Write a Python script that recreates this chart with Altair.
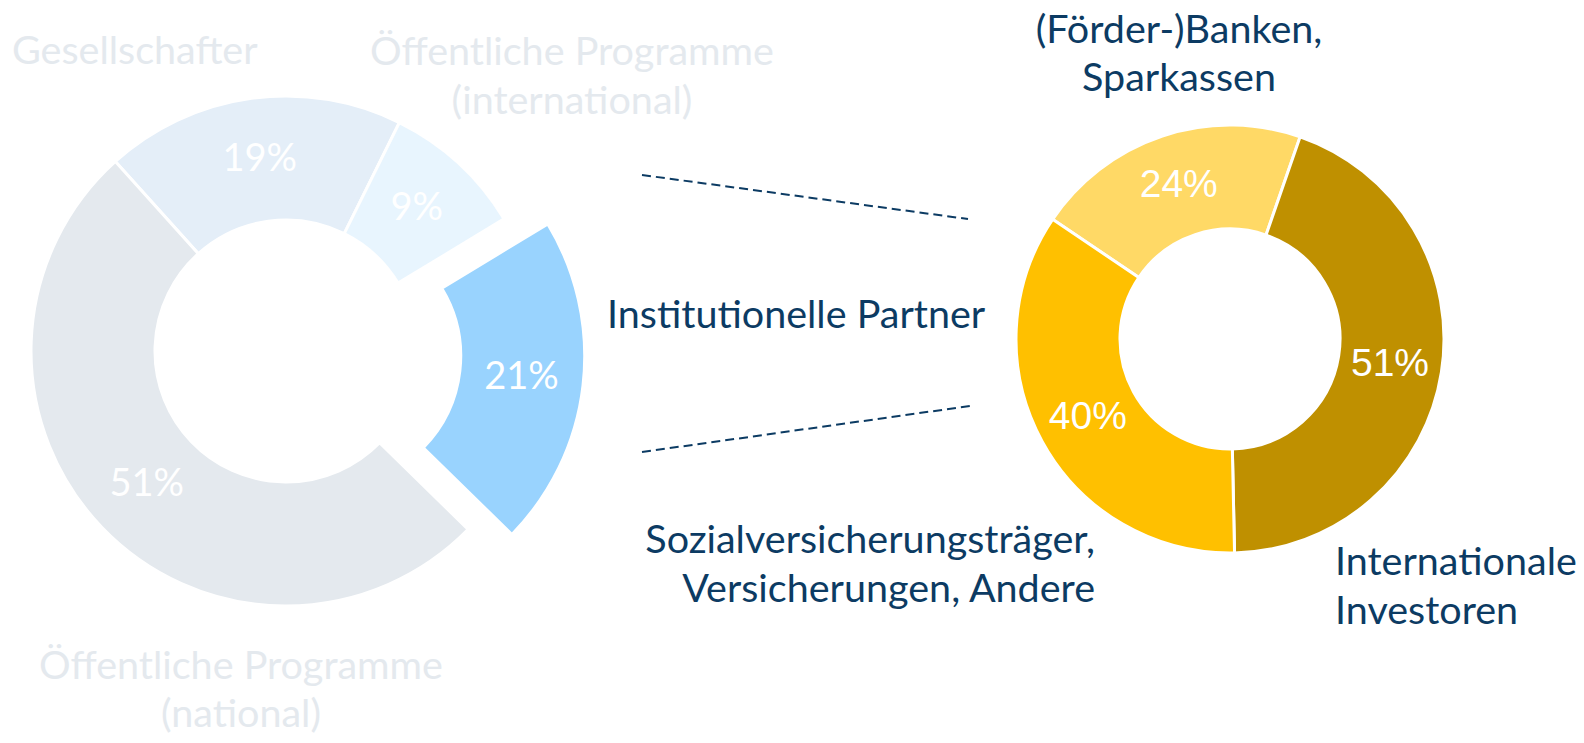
import math
import altair as alt
import pandas as pd

# ---------------- data ----------------
left_categories = ["Gesellschafter", "Öffentliche Programme (international)",
                   "Institutionelle Partner", "Öffentliche Programme (national)"]
left_values = [19, 9, 21, 51]
left_pct = ["19%", "9%", "21%", "51%"]
left_colors = ["#E4EEF8", "#E8F5FE", "#99D3FE", "#E4E9EE"]
left_explode = [0, 0, 1, 0]

right_categories = ["(Förder-)Banken, Sparkassen", "Internationale Investoren",
                    "Sozialversicherungsträger, Versicherungen, Andere"]
right_values = [24, 51, 40]
right_pct = ["24%", "51%", "40%"]
right_colors = ["#FFD966", "#BF9000", "#FFC000"]

# text labels (lines)
lbl_gesell = ["Gesellschafter"]
lbl_oeff_int = ["Öffentliche Programme", "(international)"]
lbl_oeff_nat = ["Öffentliche Programme", "(national)"]
lbl_inst = ["Institutionelle Partner"]
lbl_banken = ["(Förder-)Banken,", "Sparkassen"]
lbl_sozial = ["Sozialversicherungsträger,", "Versicherungen, Andere"]
lbl_internat = ["Internationale", "Investoren"]

# ---------------- layout ----------------
W, H = 1568, 727
NAVY = "#0C3B63"
FADED = "#E4E9EE"
FONT = "Lato"
FS = 39.5

LCX, LCY, LR, Lr = 278, 343, 255, 131
RCX, RCY, RR, Rr = 1222, 331, 214, 110
L_START = math.radians(-42)
R_START = math.radians(-56)
EXPLODE = 44

left_df = pd.DataFrame({
    "cat": left_categories, "value": left_values, "pct": left_pct,
    "color": left_colors, "explode": left_explode,
    "idx": list(range(len(left_values))),
})
right_df = pd.DataFrame({
    "cat": right_categories, "value": right_values, "pct": right_pct,
    "color": right_colors, "idx": list(range(len(right_values))),
})

# exploded slice offset along its mid angle
tot = sum(left_values)
k = left_explode.index(1)
mid_frac = (sum(left_values[:k]) + left_values[k] / 2) / tot
mid_ang = L_START + mid_frac * 2 * math.pi
EX_DX = EXPLODE * math.sin(mid_ang)
EX_DY = -EXPLODE * math.cos(mid_ang)


def theta(start):
    return alt.Theta("value:Q", stack=True,
                     scale=alt.Scale(range=[start, start + 2 * math.pi]))


left_base = alt.Chart(left_df).encode(
    theta=theta(L_START),
    order=alt.Order("idx:Q"),
)

left_arcs = left_base.mark_arc(
    x=LCX, y=LCY, outerRadius=LR, innerRadius=Lr,
    stroke="white", strokeWidth=3,
).encode(
    color=alt.Color("color:N", scale=None),
    opacity=alt.condition(alt.datum.explode == 1, alt.value(0), alt.value(1)),
)
left_arcs_ex = left_base.mark_arc(
    x=LCX + EX_DX, y=LCY + EX_DY, outerRadius=LR, innerRadius=Lr,
    stroke="white", strokeWidth=3,
).encode(
    color=alt.Color("color:N", scale=None),
    opacity=alt.condition(alt.datum.explode == 1, alt.value(1), alt.value(0)),
)
left_text = left_base.mark_text(
    x=LCX, y=LCY, radius=(LR + Lr) / 2, font=FONT, fontSize=38,
    color="white", align="center", baseline="middle",
).encode(
    text="pct:N",
    opacity=alt.condition(alt.datum.explode == 1, alt.value(0), alt.value(1)),
)
left_text_ex = left_base.mark_text(
    x=LCX + EX_DX, y=LCY + EX_DY, radius=(LR + Lr) / 2, font=FONT, fontSize=38,
    color="white", align="center", baseline="middle",
).encode(
    text="pct:N",
    opacity=alt.condition(alt.datum.explode == 1, alt.value(1), alt.value(0)),
)

right_base = alt.Chart(right_df).encode(
    theta=theta(R_START),
    order=alt.Order("idx:Q"),
)
right_arcs = right_base.mark_arc(
    x=RCX, y=RCY, outerRadius=RR, innerRadius=Rr,
    stroke="white", strokeWidth=3,
).encode(color=alt.Color("color:N", scale=None))
right_text = right_base.mark_text(
    x=RCX, y=RCY, radius=(RR + Rr) / 2, font="Liberation Sans", fontSize=39,
    color="white", align="center", baseline="middle",
).encode(text="pct:N")

dummy = pd.DataFrame({"d": [0]})


def label(lines, x, y, align, color, lh=49):
    return alt.Chart(dummy).mark_text(
        text=lines, font=FONT, fontSize=FS, color=color, align=align,
        baseline="alphabetic", lineHeight=lh,
    ).encode(x=alt.value(x), y=alt.value(y))


def dashed(x1, y1, x2, y2):
    return alt.Chart(dummy).mark_rule(
        color=NAVY, strokeWidth=2, strokeDash=[9, 5],
    ).encode(x=alt.value(x1), y=alt.value(y1), x2=alt.value(x2), y2=alt.value(y2))


chart = alt.layer(
    left_arcs, left_arcs_ex, left_text, left_text_ex,
    right_arcs, right_text,
    dashed(634, 167, 960, 211),
    dashed(634, 444, 962, 398),
    label(lbl_gesell, 4, 56, "left", FADED),
    label(lbl_oeff_int, 564, 57, "center", FADED),
    label(lbl_oeff_nat, 233, 671, "center", FADED, 48),
    label(lbl_inst, 599, 320, "left", NAVY),
    label(lbl_banken, 1171, 35, "center", NAVY, 48),
    label(lbl_sozial, 1087, 545, "right", NAVY),
    label(lbl_internat, 1327, 567, "left", NAVY),
).resolve_scale(
    theta="independent"
).properties(
    width=W, height=H, autosize="none", padding=0,
).configure_view(stroke=None)

chart.save("out.html", embed_options={"renderer": "svg", "actions": False})
